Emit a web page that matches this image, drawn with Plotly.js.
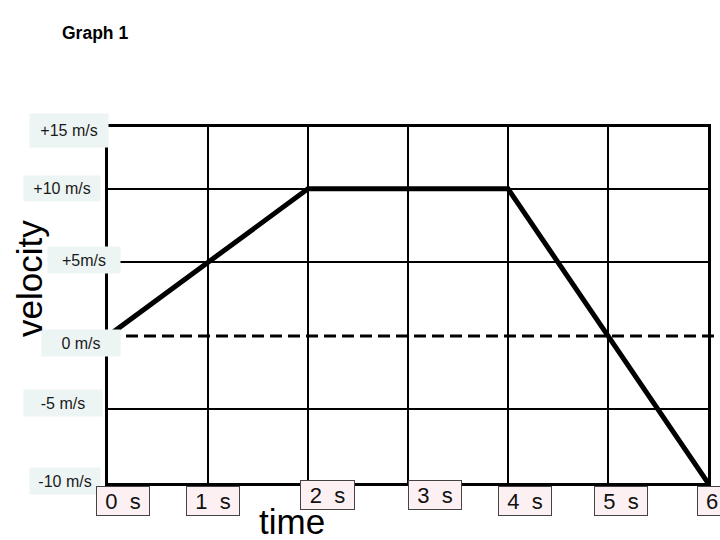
<!DOCTYPE html>
<html>
<head>
<meta charset="utf-8">
<script src="https://cdn.plot.ly/plotly-3.0.1.min.js"></script>
<style>html,body{margin:0;padding:0;background:#fff;}#chart{width:720px;height:540px;}</style>
</head>
<body>
<div id="chart"></div>
<script>
// ---- data ----
const timeS = [0, 1, 2, 3, 4, 5, 6];
const velocity = [0, 5, 10, 10, 10, 0, -10];
const xTickVals = [0, 1, 2, 3, 4, 5, 6];
const xTickText = ['0 s', '1 s', '2 s', '3 s', '4 s', '5 s', '6'];
const yTickVals = [15, 10, 5, 0, -5, -10];
const yTickText = ['+15 m/s', '+10 m/s', '+5m/s', '0 m/s', '-5 m/s', '-10 m/s'];
const gridY = [-5, 5, 10];

// ---- layout / style (pixel placement of the slide-style label boxes) ----
const L = 108, T = 127, W = 600, H = 356;
const yMin = -10, yMax = 14.2;
const PX = px => (px - L) / W;          // pixel -> paper x
const PY = py => (T + H - py) / H;      // pixel -> paper y
// label box centres in pixels [cx, cy, w, h]
const yBox = [[69,130,78,33],[62,188,76,25],[84,260,72,26],[81,343,78,26],[63,403,78,26],[65,481,70,26]];
const xBox = [[123,501,54,30],[213,501,54,30],[327,495,55,30],[435,495,54,30],[525,501,54,30],[621,501,54,30],[712,501,30,30]];
const FONT = 'Liberation Sans, Arial, sans-serif';

const ann = [];
yTickText.forEach((t, i) => {
  const b = yBox[i];
  ann.push({text: t, xref: 'paper', yref: 'paper', x: PX(b[0]), y: PY(b[1]),
    xanchor: 'center', yanchor: 'middle',
    showarrow: false, width: b[2], height: b[3], borderpad: 0,
    bgcolor: '#edf4f4', font: {family: FONT, size: 16, color: '#1a1a1a'}});
});
xTickText.forEach((t, i) => {
  const b = xBox[i];
  ann.push({text: t.replace(' ', '&nbsp;&nbsp;'), xref: 'paper', yref: 'paper', x: PX(b[0]), y: PY(b[1]),
    xanchor: 'center', yanchor: 'middle',
    showarrow: false, width: b[2] - 2, height: b[3] - 2, borderpad: 0, borderwidth: 1,
    bordercolor: '#444', bgcolor: '#fcf0f3',
    font: {family: FONT, size: 22, color: '#111'}});
});
ann.push({text: '<b>Graph 1</b>', xref: 'paper', yref: 'paper', x: PX(95), y: PY(33),
  xanchor: 'center', yanchor: 'middle',
  showarrow: false, font: {family: FONT, size: 17.5, color: '#000'}});
ann.push({text: 'velocity', xref: 'paper', yref: 'paper', x: PX(29), y: PY(279),
  xanchor: 'center', yanchor: 'middle',
  textangle: -90, showarrow: false, font: {family: FONT, size: 35, color: '#000'}});
ann.push({text: 'time', xref: 'paper', yref: 'paper', x: PX(292), y: PY(521),
  xanchor: 'center', yanchor: 'middle',
  showarrow: false, font: {family: FONT, size: 35, color: '#000'}});

const traces = [{
  x: timeS, y: velocity, type: 'scatter', mode: 'lines',
  line: {color: '#000', width: 5}, hoverinfo: 'skip'
}];

const layout = {
  width: 720, height: 540,
  margin: {l: L, r: 720 - L - W, t: T, b: 540 - T - H},
  paper_bgcolor: '#fff', plot_bgcolor: '#fff',
  showlegend: false,
  xaxis: {range: [0, 6], tickvals: xTickVals, showticklabels: false, ticks: '',
    showgrid: true, gridcolor: '#000', gridwidth: 2, zeroline: false,
    showline: true, linecolor: '#000', linewidth: 3, mirror: true, fixedrange: true},
  yaxis: {range: [yMin, yMax], tickvals: gridY, showticklabels: false, ticks: '',
    showgrid: true, gridcolor: '#000', gridwidth: 2, zeroline: false,
    showline: true, linecolor: '#000', linewidth: 3, mirror: true, fixedrange: true},
  shapes: [{type: 'line', xref: 'paper', yref: 'y', x0: 0, x1: (720 - L) / W, y0: 0, y1: 0,
    line: {color: '#000', width: 3, dash: '12px,6px'}, layer: 'above'}],
  annotations: ann
};

Plotly.newPlot('chart', traces, layout, {displayModeBar: false, staticPlot: true});
</script>
</body>
</html>
